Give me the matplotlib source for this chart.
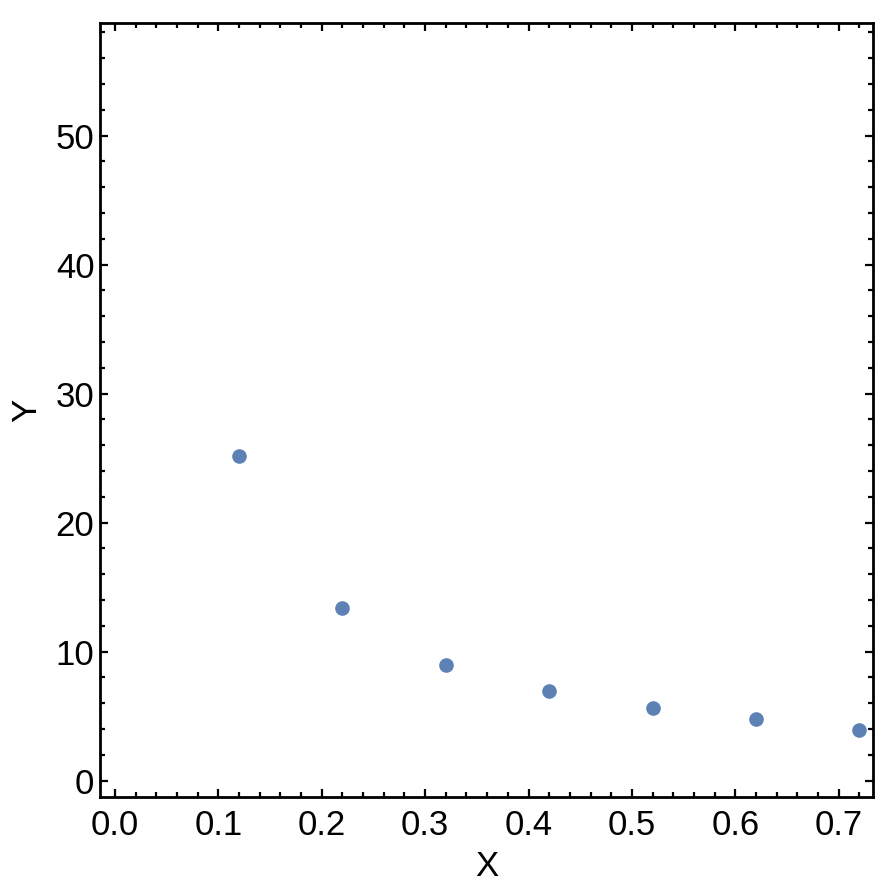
import matplotlib.pyplot as plt
from matplotlib.ticker import MultipleLocator

x = [0.12, 0.22, 0.32, 0.42, 0.52, 0.62, 0.72]
y = [25.2, 13.4, 9.0, 6.95, 5.65, 4.8, 3.95]

plt.rcParams['font.family'] = ['Liberation Sans', 'DejaVu Sans']

fig = plt.figure(figsize=(8.94, 8.88), dpi=100)
ax = fig.add_axes([0.1119, 0.1025, 0.8643, 0.8713])

ax.plot(x, y, linestyle="none", marker="o", markersize=9.5, color="#5E81B5")

ax.set_xlim(-0.0145, 0.733)
ax.set_ylim(-1.26, 58.7)
ax.xaxis.set_major_locator(MultipleLocator(0.1))
ax.xaxis.set_minor_locator(MultipleLocator(0.02))
ax.yaxis.set_major_locator(MultipleLocator(10))
ax.yaxis.set_minor_locator(MultipleLocator(2))
ax.xaxis.set_major_formatter(plt.FormatStrFormatter("%.1f"))

for s in ax.spines.values():
    s.set_linewidth(2)
ax.tick_params(which="both", direction="in", top=True, right=True, width=1.6)
ax.tick_params(which="major", length=6, labelsize=25)
ax.tick_params(which="minor", length=3.5)
ax.tick_params(axis="x", which="major", pad=9)
ax.tick_params(axis="y", which="major", pad=4)

ax.set_xlabel("X", fontsize=25, va="center")
ax.set_ylabel("Y", fontsize=25, va="center")
ax.xaxis.set_label_coords(0.5, -0.09)
ax.yaxis.set_label_coords(-0.095, 0.5)

plt.savefig("out.png")
plt.close()
